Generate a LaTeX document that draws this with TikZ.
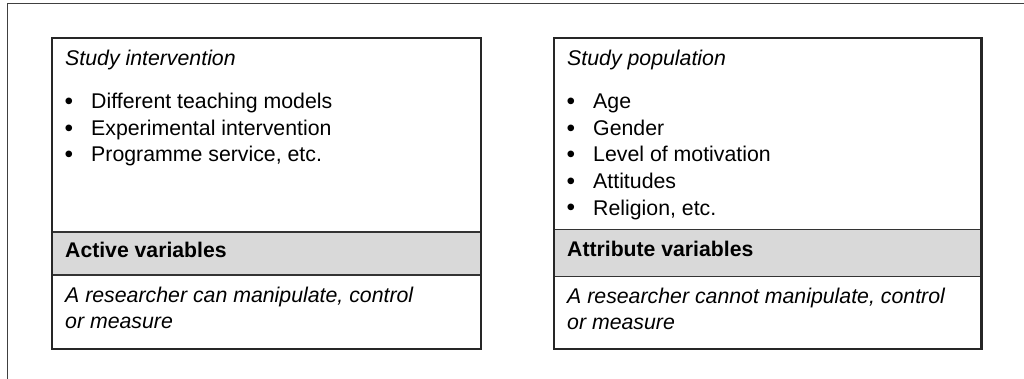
\documentclass[tikz,border=0pt]{standalone}
\usepackage{fontspec}
\setmainfont{Liberation Sans}
\newcommand{\bul}{\makebox[27pt][l]{\hspace{0.3pt}\raisebox{-0.9pt}{\fontsize{24.5}{26}\selectfont •}}}
\begin{document}
\begin{tikzpicture}[x=1pt,y=-1pt,
  txt/.style={anchor=base west,inner sep=0pt,font=\fontsize{21.3}{26}\selectfont},
  itxt/.style={txt,font=\fontsize{21.3}{26}\selectfont\itshape},
  btxt/.style={txt,font=\fontsize{21.2}{26}\selectfont\bfseries},
  frame/.style={draw=black!75,line width=1pt},
  boxline/.style={draw=black!85,line width=2.2pt},
  sepline/.style={draw=black!80,line width=1.3pt},
  band/.style={fill=black!15}]
\useasboundingbox (0,0) rectangle (1024,379);
% outer frame (cropped)
\draw[frame] (7,379) -- (7,3.5) -- (1024,3.5);
% left box
\fill[band] (52,232) rectangle (481,275);
\draw[sepline] (52,232) -- (481,232) (52,275) -- (481,275);
\draw[boxline] (52,38) rectangle (481,349);
% right box
\fill[band] (554,229.5) rectangle (981.5,276.5);
\draw[sepline] (554,229.5) -- (981.5,229.5) (554,276.5) -- (981.5,276.5);
\draw[boxline] (554,38) rectangle (981.5,349);
% left texts
\node[itxt] (lt) at (65,66) {Study intervention};
\node[txt] (l1) at (64,109) {\bul Different teaching models};
\node[txt] (l2) at (64,135.5) {\bul Experimental intervention};
\node[txt] (l3) at (64,162) {\bul Programme service, etc.};
\node[btxt] (lb) at (65,258) {Active variables};
\node[itxt] (ld1) at (65,302) {A researcher can manipulate, control};
\node[itxt] (ld2) at (65,328.5) {or measure};
% right texts
\node[itxt] (rt) at (567,66) {Study population};
\node[txt] (r1) at (566,109) {\bul Age};
\node[txt] (r2) at (566,135.5) {\bul Gender};
\node[txt] (r3) at (566,162) {\bul Level of motivation};
\node[txt] (r4) at (566,188.5) {\bul Attitudes};
\node[txt] (r5) at (566,215) {\bul Religion, etc.};
\node[btxt] (rb) at (567,256) {Attribute variables};
\node[itxt] (rd1) at (567,303) {A researcher cannot manipulate, control};
\node[itxt] (rd2) at (567,329.5) {or measure};
\end{tikzpicture}
\end{document}
